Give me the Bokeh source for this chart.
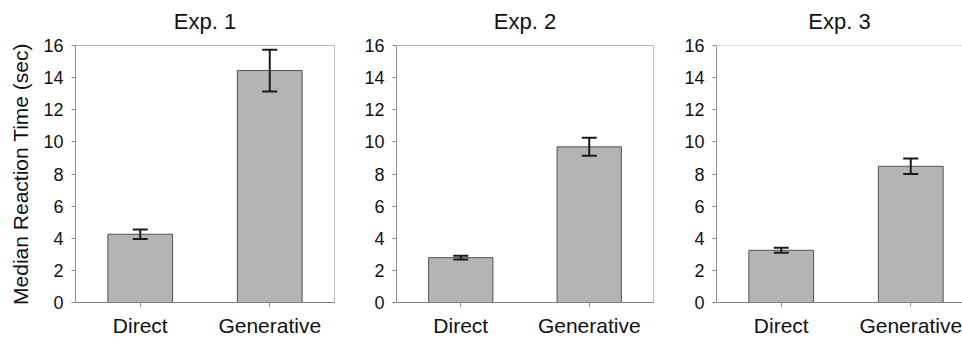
from bokeh.plotting import figure
from bokeh.layouts import row
from bokeh.models import (Range1d, FixedTicker, ColumnDataSource, Whisker, TeeHead, Span,
                          LinearAxis)
from bokeh.embed import file_html
from bokeh.resources import INLINE

# ---- data ----
experiments = ["Exp. 1", "Exp. 2", "Exp. 3"]
conditions = ["Direct", "Generative"]
direct_rt = [4.25, 2.79, 3.25]
generative_rt = [14.44, 9.69, 8.48]
direct_err = [0.29, 0.12, 0.16]
generative_err = [1.30, 0.56, 0.48]
y_ticks = [0, 2, 4, 6, 8, 10, 12, 14, 16]
y_label = "Median Reaction Time (sec)"

FONT = "Liberation Sans"
TXT = "#111111"

# layout: (figure width, border left, border right, x-range end)
layouts = [
    (340, 75, 6, 2.0),
    (320, 56, 7, 2.0),
    (302, 56, 0, 246 / 129.5),
]
H = 339
TOP = 45
BOTTOM = 37
YMAX = 16

figs = []
for i, exp in enumerate(experiments):
    w, bl, br, xend = layouts[i]
    xs = [k + 0.5 for k in range(len(conditions))]
    vals = [direct_rt[i], generative_rt[i]]
    errs = [direct_err[i], generative_err[i]]
    src = ColumnDataSource(dict(
        x=xs, top=vals,
        upper=[v + e for v, e in zip(vals, errs)],
        lower=[v - e for v, e in zip(vals, errs)],
    ))
    p = figure(width=w, height=H, output_backend="svg", toolbar_location=None,
               x_range=Range1d(0, xend), y_range=Range1d(0, YMAX),
               min_border_left=bl, min_border_right=br,
               min_border_top=TOP, min_border_bottom=BOTTOM)
    p.background_fill_color = "white"
    p.border_fill_color = "white"
    p.xgrid.visible = False
    p.ygrid.visible = False
    if i == 2:
        p.outline_line_color = None
        p.add_layout(Span(location=YMAX, dimension="width", line_color="#bbbbbb", line_width=1))
    else:
        p.outline_line_color = "#bbbbbb"
        p.outline_line_width = 1

    # panel title as the label of a bare axis above the frame
    top_ax = LinearAxis(ticker=FixedTicker(ticks=[]), axis_label=exp,
                        axis_line_color=None, major_tick_line_color=None,
                        minor_tick_line_color=None, major_tick_in=0, major_tick_out=0,
                        minor_tick_in=0, minor_tick_out=0, major_label_standoff=0,
                        axis_label_standoff=12, axis_label_text_font=FONT,
                        axis_label_text_font_size="22px", axis_label_text_font_style="normal",
                        axis_label_text_color=TXT)
    p.add_layout(top_ax, "above")

    p.vbar(x="x", top="top", bottom=0, width=0.5, source=src,
           fill_color="#b4b4b4", line_color="#505050", line_width=1)
    wh = Whisker(base="x", upper="upper", lower="lower", source=src,
                 line_color="#1a1a1a", line_width=2, level="overlay",
                 upper_head=TeeHead(size=15, line_color="#1a1a1a", line_width=2),
                 lower_head=TeeHead(size=15, line_color="#1a1a1a", line_width=2))
    p.add_layout(wh)

    # x axis
    xa = p.below[0]
    xa.ticker = FixedTicker(ticks=xs)
    xa.major_label_overrides = {x: c for x, c in zip(xs, conditions)}
    xa.minor_tick_line_color = None
    xa.major_tick_in = 0
    xa.major_tick_out = 4
    xa.major_tick_line_color = "#888888"
    xa.axis_line_color = "#808080"
    xa.major_label_text_font = FONT
    xa.major_label_text_font_size = "21px"
    xa.major_label_text_color = TXT
    xa.major_label_standoff = 7

    # y axis
    ya = p.left[0]
    ya.ticker = FixedTicker(ticks=y_ticks)
    ya.minor_tick_line_color = None
    ya.major_tick_in = 0
    ya.major_tick_out = 4
    ya.major_tick_line_color = "#888888"
    ya.axis_line_color = "#909090"
    ya.major_label_text_font = FONT
    ya.major_label_text_font_size = "18px"
    ya.major_label_text_color = TXT
    ya.major_label_standoff = 8
    if i == 0:
        ya.axis_label = y_label
        ya.axis_label_text_font = FONT
        ya.axis_label_text_font_size = "21px"
        ya.axis_label_text_font_style = "normal"
        ya.axis_label_text_color = TXT
        ya.axis_label_standoff = 8
    figs.append(p)

layout = row(*figs, spacing=0)
open("out.html", "w").write(file_html(layout, INLINE))
